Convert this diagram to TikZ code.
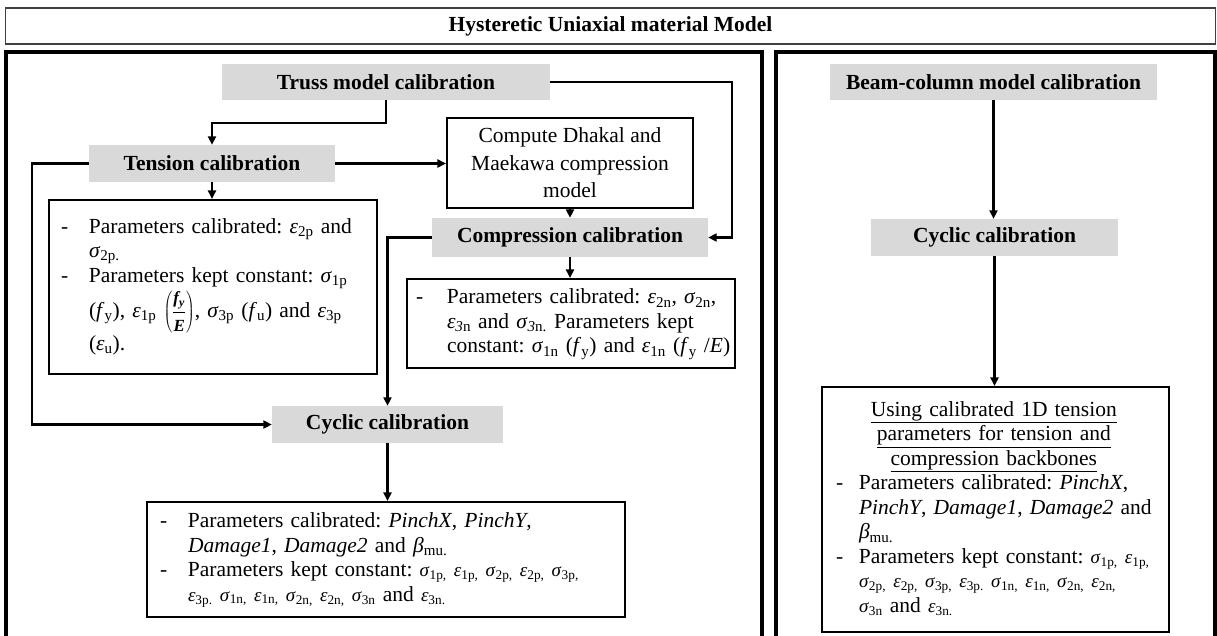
\documentclass[tikz,border=0pt]{standalone}
\usepackage{fontspec}
\setmainfont{Liberation Serif}
\usetikzlibrary{arrows.meta}
\definecolor{boxgray}{HTML}{D9D9D9}
\frenchspacing
\newcommand{\fs}{\fontsize{21.5}{24.5}\selectfont\frenchspacing}
\newcommand{\gk}[2]{\textit{#1}\textsubscript{#2}}
\newcommand{\gs}[2]{{\fontsize{19}{24.5}\selectfont\textit{#1}\textsubscript{#2}}}
\newcommand{\fy}{\textit{f}\textsubscript{y}}
\newcommand{\fb}[1]{\hbox{\fontsize{17}{17}\selectfont\bfseries\itshape #1}}
\tikzset{
  x=1pt, y=-1pt,
  every node/.style={font=\fs, inner sep=0pt},
  graybox/.style={fill=boxgray, minimum height=37pt, font=\fs\bfseries},
  txtbox/.style={draw, line width=2.1pt, inner xsep=12pt, inner ysep=0pt, align=left},
  panel/.style={draw, line width=3.6pt},
  arr/.style={line width=2.1pt, -{Triangle[length=8.5pt,width=8pt]}}
}
\begin{document}
\begin{tikzpicture}
\useasboundingbox (0,0) rectangle (1217,635);
% title and panels
\node[draw=black!75, line width=1.6pt, minimum width=1210pt, minimum height=36pt, font=\fs\bfseries] (title) at (610.5,26) {Hysteretic Uniaxial material Model};
\draw[panel] (6,52) rectangle (762,660);
\draw[panel] (776,52) rectangle (1215,660);

% left panel nodes
\node[graybox, minimum width=328pt, minimum height=36pt] (truss) at (386,82) {Truss model calibration};
\node[graybox, minimum width=246pt] (tension) at (212,163.5) {Tension calibration};
\node[draw, line width=2.1pt, minimum width=246pt, minimum height=90pt, align=center, font=\fontsize{21.5}{27.5}\selectfont] (compute) at (570,163) {Compute Dhakal and\\Maekawa compression\\model};
\node[graybox, minimum width=276pt, minimum height=39pt] (compression) at (570,237.5) {Compression calibration};
\node[txtbox, text width=304pt, minimum height=174pt] (ttext) at (213,287) {%
\begin{tabular}{@{}p{28pt}@{}l@{}}
- & Parameters calibrated: \gk{ε}{2p} and\\
  & \gk{σ}{2p.}\\
- & Parameters kept constant: \gk{σ}{1p}\\[2pt]
  & (\fy), \gk{ε}{1p} $\displaystyle\left(\frac{\fb{f\textsubscript{y}}}{\fb{E}}\right)$, \gk{σ}{3p} (\textit{f}\textsubscript{u}) and \gk{ε}{3p}\\[2pt]
  & (\gk{ε}{u}).
\end{tabular}};
\node[txtbox, inner xsep=9pt, text width=310pt, minimum height=89pt] (ctext) at (571,323.5) {%
\begin{tabular}{@{}p{31pt}@{}l@{}}
- & Parameters calibrated: \gk{ε}{2n}, \gk{σ}{2n},\\
  & \gk{ε}{\textit{3}n} and \gk{σ}{\textit{3}n.} Parameters kept\\
  & constant: \gk{σ}{1n} (\fy) and \gk{ε}{1n} (\fy\ /\textit{E})
\end{tabular}};
\node[graybox, minimum width=231pt] (cyclic) at (387.5,424.5) {Cyclic calibration};
\node[txtbox, inner xsep=13pt, text width=452pt, minimum height=115pt] (cytext) at (386,559.5) {%
\begin{tabular}{@{}p{28pt}@{}l@{}}
- & Parameters calibrated: \textit{PinchX}, \textit{PinchY},\\
  & \textit{Damage1}, \textit{Damage2} and \gk{β}{mu.}\\
- & Parameters kept constant: \gs{σ}{1p,} \gs{ε}{1p,} \gs{σ}{2p,} \gs{ε}{2p,} \gs{σ}{3p,}\\
  & \gs{ε}{3p.} \gs{σ}{1n,} \gs{ε}{1n,} \gs{σ}{2n,} \gs{ε}{2n,} \gs{σ}{3n} and \gs{ε}{3n.}
\end{tabular}};

% right panel nodes
\node[graybox, minimum width=327pt, minimum height=36pt] (beam) at (993.5,82) {Beam-column model calibration};
\node[graybox, minimum width=247pt] (cyclicb) at (994.5,237.5) {Cyclic calibration};
\node[txtbox, inner xsep=14pt, text width=319pt, minimum height=245pt] (rtext) at (995.5,509.5) {%
\begin{tabular}{@{}p{23pt}@{}l@{}}
\multicolumn{2}{c}{\underline{Using calibrated 1D tension}}\\
\multicolumn{2}{c}{\underline{parameters for tension and}}\\
\multicolumn{2}{c}{\underline{compression backbones}}\\
- & Parameters calibrated: \textit{PinchX},\\
  & \textit{PinchY}, \textit{Damage1}, \textit{Damage2} and\\
  & \gk{β}{mu.}\\
- & Parameters kept constant: \gs{σ}{1p,} \gs{ε}{1p,}\\
  & \gs{σ}{2p,} \gs{ε}{2p,} \gs{σ}{3p,} \gs{ε}{3p.} \gs{σ}{1n,} \gs{ε}{1n,} \gs{σ}{2n,} \gs{ε}{2n,}\\
  & \gs{σ}{3n} and \gs{ε}{3n.}
\end{tabular}};

% helper coordinates
\coordinate (trussR) at (732,82);
\coordinate (tensL) at (32,163.5);

% connectors
\draw[arr] (truss.south) -- ++(0,23) -| (tension.north);
\draw[arr] (truss.east) -- (trussR) |- (compression.east);
\draw[arr] (tension.east) -- (tension.east -| compute.west);
\draw[arr] (tension.west) -- (tensL) |- (cyclic.west);
\draw[arr] (tension.south) -- (tension.south |- ttext.north);
\draw[arr] (compute.south) -- (compute.south |- compression.north);
\draw[arr] (compression.south) -- (compression.south |- ctext.north);
\draw[arr] (compression.west) -| (cyclic.north);
\draw[arr] (cyclic.south) -- (cyclic.south |- cytext.north);
\draw[arr] (beam.south) -- (beam.south |- cyclicb.north);
\draw[arr] (cyclicb.south) -- (cyclicb.south |- rtext.north);
\end{tikzpicture}
\end{document}
